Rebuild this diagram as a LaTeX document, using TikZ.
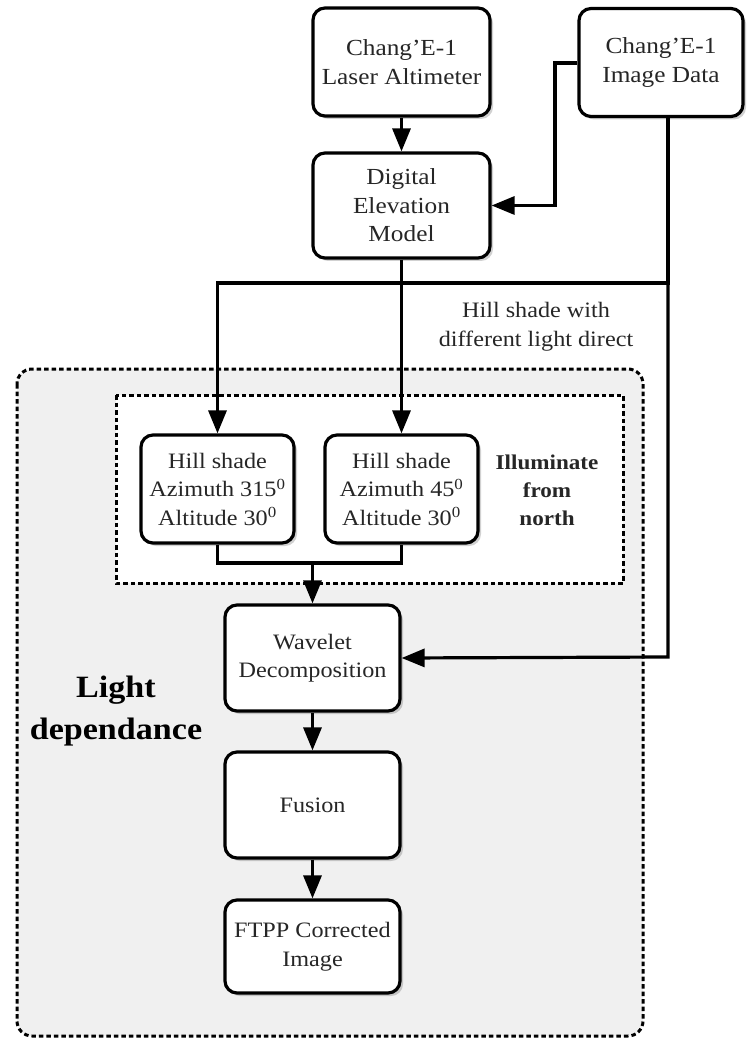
\documentclass[tikz,border=0pt]{standalone}
\usepackage{fontspec}
\setmainfont[FakeStretch=1.1]{Liberation Serif}
\usetikzlibrary{arrows.meta,shadows}
\begin{document}
\begin{tikzpicture}[x=1pt,y=1pt,
  box/.style={draw=black, line width=3.2pt, rounded corners=12pt, fill=white,
    align=center, font=\fontsize{22}{28.5}\selectfont, text=black!85,
    inner sep=2pt,
    drop shadow={shadow xshift=3pt, shadow yshift=-3pt, opacity=0.18, fill=black}},
  conn/.style={line width=3.2pt, line join=miter},
  arr/.style={conn, -{Triangle[length=23pt,width=18pt]}},
  dotbox/.style={line width=3pt, dash pattern=on 4.5pt off 3pt},
  lbl/.style={align=center, text=black!85}
]
\useasboundingbox (0,0) rectangle (746,-1040);
% group backgrounds
\draw[dotbox, fill=black!6, rounded corners=15pt] (17,-369) rectangle (643,-1036);
\draw[dotbox, fill=white] (116,-395) rectangle (623,-583);
% nodes
\node[box, font=\fontsize{23}{28.5}\selectfont, minimum width=177pt, minimum height=108pt] (laser) at (401.5,-62) {Chang'E-1\\Laser Altimeter};
\node[box, font=\fontsize{23}{28.5}\selectfont, minimum width=164pt, minimum height=108pt] (img) at (661,-62.5) {Chang'E-1\\Image Data};
\node[box, font=\fontsize{23}{28.5}\selectfont, minimum width=177pt, minimum height=105pt] (dem) at (401.5,-205.5) {Digital\\Elevation\\Model};
\node[box, minimum width=153pt, minimum height=108pt] (hs1) at (217.5,-489) {Hill shade\\Azimuth 315\textsuperscript{0}\\Altitude 30\textsuperscript{0}};
\node[box, minimum width=153pt, minimum height=108pt] (hs2) at (401.5,-489) {Hill shade\\Azimuth 45\textsuperscript{0}\\Altitude 30\textsuperscript{0}};
\node[box, minimum width=175pt, minimum height=106pt] (wav) at (312.5,-658) {Wavelet\\Decomposition};
\node[box, minimum width=175pt, minimum height=106pt] (fus) at (312.5,-805) {Fusion};
\node[box, minimum width=175pt, minimum height=93pt] (ftpp) at (312.5,-946.5) {FTPP Corrected\\Image};
% labels
\node[lbl, font=\fontsize{22}{29}\selectfont] (hsw) at (536,-327) {Hill shade with\\different light direct};
\node[lbl, font=\bfseries\fontsize{21}{28}\selectfont] (ill) at (547,-490) {Illuminate\\from\\north};
\node[lbl, font=\bfseries\fontsize{31}{42}\selectfont, text=black] (ld) at (116,-711) {Light\\dependance};
% junction coordinates
\coordinate (jr) at (668,-283);
\coordinate (jl) at (hs1.north |- jr);
\coordinate (jw) at (668,-657);
\coordinate (iw) at (555,-63);
\coordinate (mb) at (312.5,-563);
% connectors
\draw[arr] (laser) -- (dem);
\draw[arr] (img.west |- iw) -- (iw) -- (iw |- dem.east) -- (dem.east);
\draw[arr] (img.south -| jr) -- (jr) -- (jl) -- (hs1.north);
\draw[arr] (dem) -- (hs2);
\draw[arr] (jr) -- (jw) -- (wav.east);
\draw[conn] (hs1.south) -- (hs1.south |- mb) -- (hs2.south |- mb) -- (hs2.south);
\draw[arr] (mb) -- (wav.north);
\draw[arr] (wav) -- (fus);
\draw[arr] (fus) -- (ftpp);
\end{tikzpicture}
\end{document}
